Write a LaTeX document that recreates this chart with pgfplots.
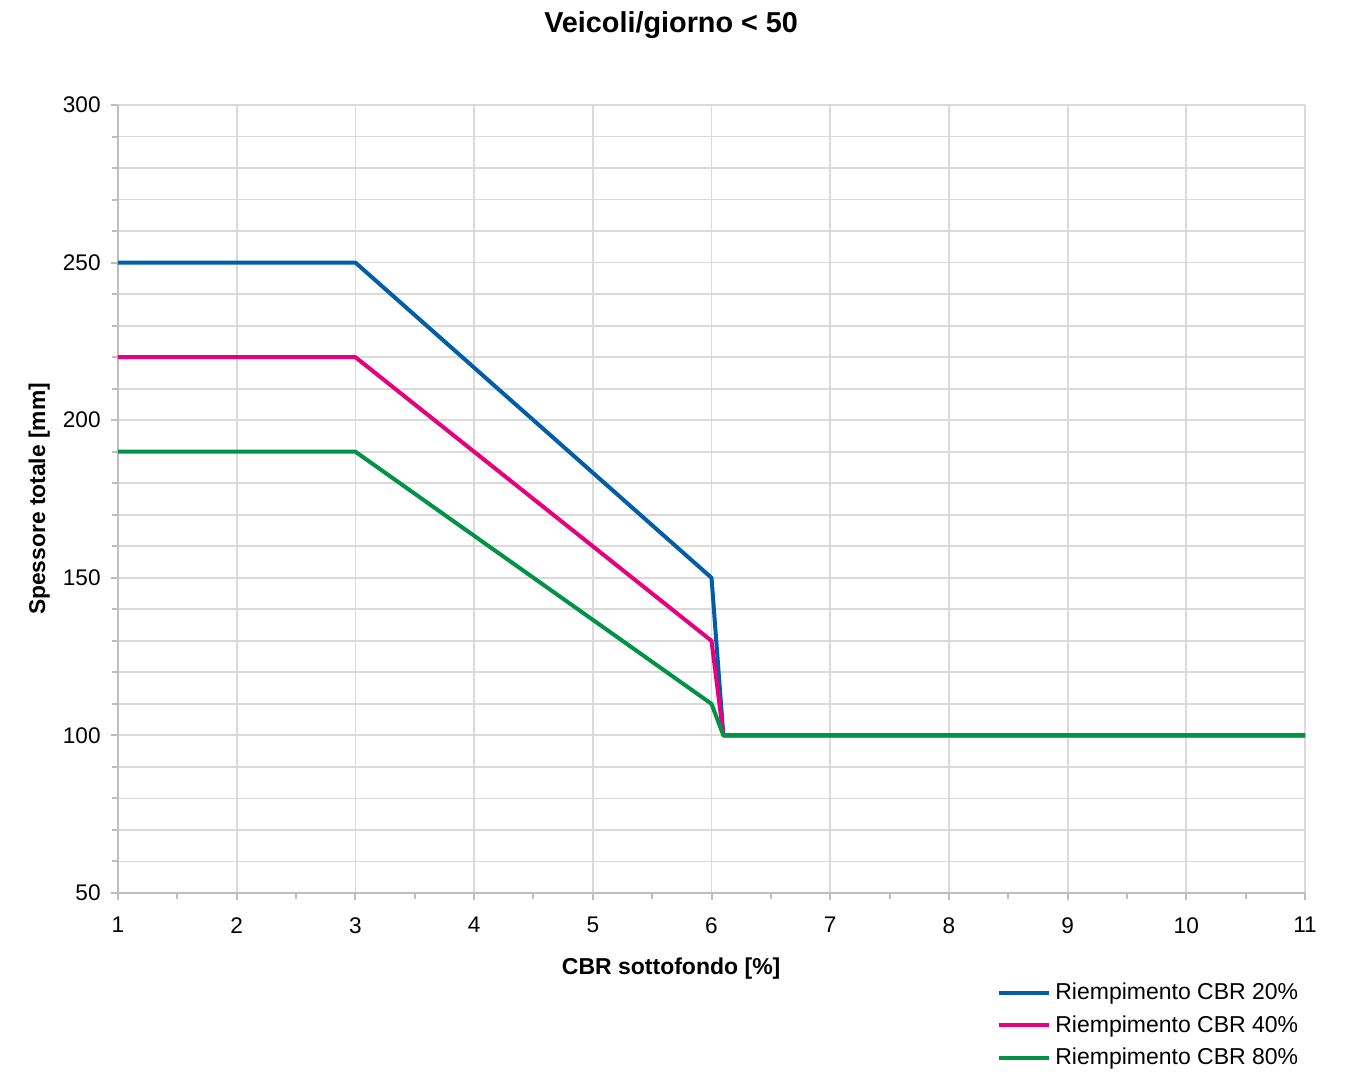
\documentclass[border=0pt]{standalone}
\usepackage{pgfplots}
\pgfplotsset{compat=1.18}
\usepackage{fontspec}
\setmainfont{Liberation Sans}
\definecolor{cbrblue}{RGB}{0,94,168}
\definecolor{cbrpink}{RGB}{230,0,126}
\definecolor{cbrgreen}{RGB}{0,146,69}
\definecolor{gridgray}{RGB}{218,218,218}
\definecolor{axisgray}{RGB}{190,190,190}

\begin{document}
\begin{tikzpicture}
\begin{axis}[name=ax,
    scale only axis,
    width=593.5pt, height=394pt,
    xmin=1, xmax=11, ymin=50, ymax=300,
    xtick={1,...,11}, ytick={50,100,...,300},
    minor x tick num=1, minor y tick num=4,
    axis x line=bottom, axis y line=left,
    axis line style={-, axisgray, line width=1.3pt},
    tick align=outside,
    major tick length=3.5pt, minor tick length=3pt,
    tick style={axisgray, line width=1pt},
    xmajorgrids, ymajorgrids, yminorgrids,
    grid style={gridgray, line width=0.9pt},
    minor grid style={gridgray, line width=0.9pt},
    /pgf/number format/assume math mode=true,
    ticklabel style={font=\fontsize{11.3}{13}\selectfont},
    yticklabel style={anchor=east, inner sep=0pt, xshift=-5pt},
    xticklabel style={anchor=north, inner sep=0pt, yshift=-8.5pt},
    title={Veicoli/giorno < 50},
    title style={font=\bfseries\fontsize{14.4}{16}\selectfont, at={(axis description cs:0.466,1.0762)}, anchor=base, inner sep=0pt},
    xlabel={CBR sottofondo [\%]},
    xlabel style={font=\bfseries\fontsize{11.5}{13}\selectfont, at={(axis description cs:0.466,-0.104)}, anchor=base},
    ylabel={Spessore totale [mm]},
    ylabel style={font=\bfseries\fontsize{11.4}{13}\selectfont, at={(axis description cs:-0.0615,0.5)}, anchor=base},
    legend style={at={(axis description cs:0.998,-0.1085)}, anchor=north east, draw=none, fill=none,
        font=\fontsize{11.5}{13}\selectfont, row sep=2.5pt, inner sep=0pt},
    legend cell align=left,
    legend image code/.code={\draw[#1] (0pt,0pt) -- (25pt,0pt);},
    every axis plot/.append style={line width=2pt, line join=round},
]
\addplot[cbrblue] coordinates {(1,250) (3,250) (6,150) (6.1,100) (11,100)};
\addlegendentry{Riempimento CBR 20\%}
\addplot[cbrpink] coordinates {(1,220) (3,220) (6,130) (6.1,100) (11,100)};
\addlegendentry{Riempimento CBR 40\%}
\addplot[cbrgreen] coordinates {(1,190) (3,190) (6,110) (6.1,100) (11,100)};
\addlegendentry{Riempimento CBR 80\%}
\end{axis}
\path (ax.south west) ++(-59pt,-89pt) rectangle ([xshift=21pt,yshift=52.5pt]ax.north east);
\end{tikzpicture}
\end{document}
